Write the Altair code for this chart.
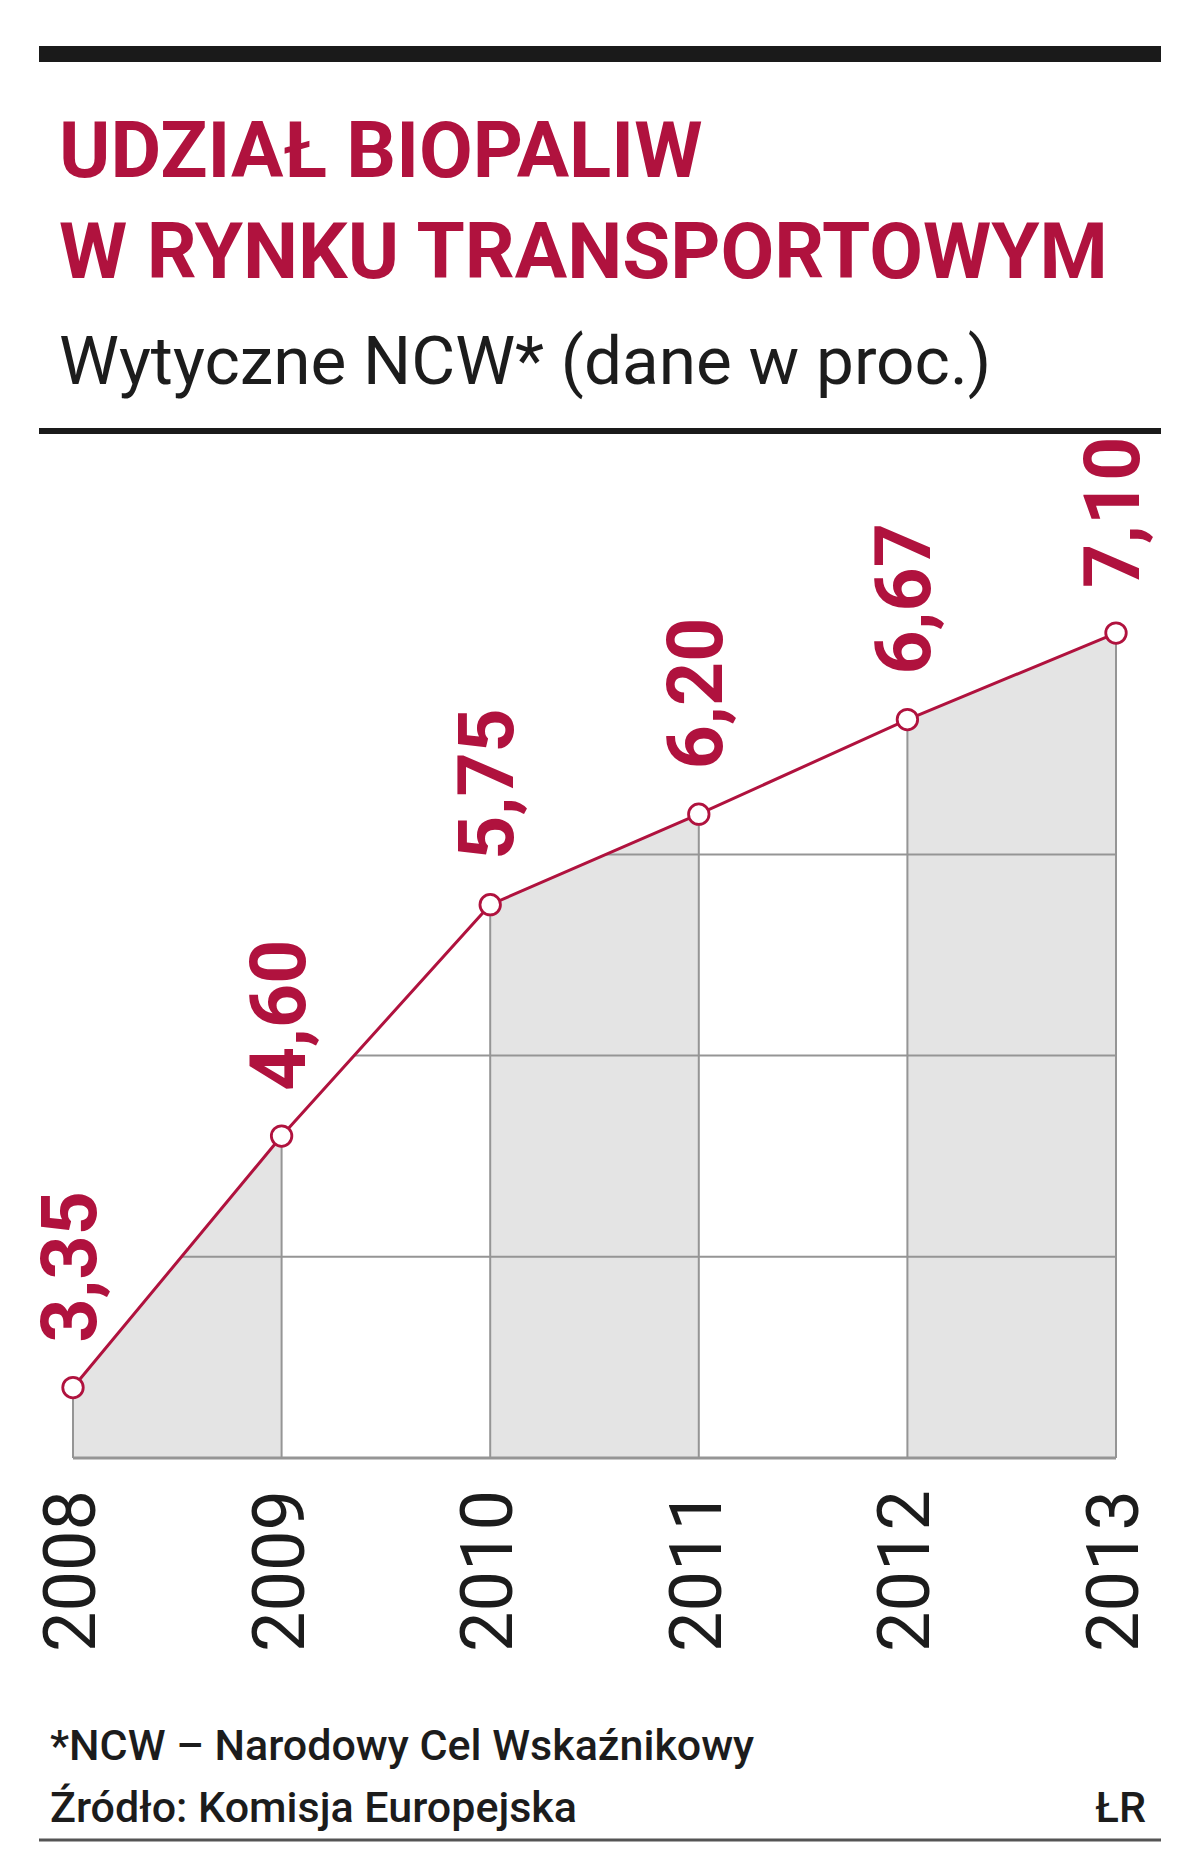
import altair as alt
import pandas as pd

# ---- data ----
years = [2008, 2009, 2010, 2011, 2012, 2013]
values = [3.35, 4.60, 5.75, 6.20, 6.67, 7.10]
value_labels = ["3,35", "4,60", "5,75", "6,20", "6,67", "7,10"]
grid_values = [4, 5, 6]
y_domain = [3, 8]
title_lines = ["UDZIAŁ BIOPALIW", "W RYNKU TRANSPORTOWYM"]
subtitle = "Wytyczne NCW* (dane w proc.)"
footnote = "*NCW – Narodowy Cel Wskaźnikowy"
source = "Źródło: Komisja Europejska"
credit = "ŁR"

# ---- styling ----
W, H = 1043, 1006
RED = "#b0123e"
GRID = "#959595"
FILL = "#e4e4e4"
INK = "#1c1c1c"
FONT = "Roboto, 'Liberation Sans', sans-serif"

df = pd.DataFrame({
    "year": years,
    "value": values,
    "label": value_labels,
    "year_label": [str(v) for v in years],
})

seg_rows = []
for i in range(0, len(years) - 1, 2):
    for j in (i, i + 1):
        seg_rows.append({"year": years[j], "value": values[j], "seg": i // 2})
seg_df = pd.DataFrame(seg_rows)

x = alt.X("year:Q", scale=alt.Scale(domain=[years[0], years[-1]], nice=False, zero=False), axis=None)
y = alt.Y("value:Q", scale=alt.Scale(domain=y_domain, nice=False, zero=False), axis=None)

fill_areas = alt.Chart(seg_df).mark_area(color=FILL, opacity=1).encode(
    x=x, y=y, y2=alt.datum(y_domain[0]), detail="seg:N"
)

h_grid = alt.Chart(pd.DataFrame({"value": grid_values})).mark_rule(color=GRID, strokeWidth=2).encode(
    y=y, x=alt.value(0), x2=alt.value(W)
)
# vertical grid from the baseline up to each point
v_grid = alt.Chart(df).mark_rule(color=GRID, strokeWidth=2).encode(
    x=x, y=y, y2=alt.datum(y_domain[0])
)
baseline = alt.Chart(pd.DataFrame({"value": [y_domain[0]]})).mark_rule(color=GRID, strokeWidth=3).encode(
    y=y, x=alt.value(0), x2=alt.value(W)
)

# white area above the line hides the horizontal grid there
mask = alt.Chart(df).mark_area(color="white", opacity=1).encode(
    x=x, y=y, y2=alt.datum(y_domain[1])
)

line = alt.Chart(df).mark_line(color=RED, strokeWidth=3).encode(x=x, y=y)
points = alt.Chart(df).mark_circle(size=420, fill="white", stroke=RED, strokeWidth=2.8, opacity=1).encode(x=x, y=y)

labels = alt.Chart(df).mark_text(
    angle=270, align="left", baseline="middle", dx=45, dy=0,
    font=FONT, fontSize=77, fontWeight="bold", color=RED
).encode(x=x, y=y, text="label:N")

year_text = alt.Chart(df).mark_text(
    angle=270, align="left", baseline="middle",
    font=FONT, fontSize=72, color=INK
).encode(x=x, y=alt.value(1200), text="year_label:N")


def text_layer(txt, px, py, size, weight="normal", color=INK, align="left"):
    return alt.Chart(pd.DataFrame({"t": [txt]})).mark_text(
        align=align, baseline="alphabetic", font=FONT, fontSize=size,
        fontWeight=weight, color=color
    ).encode(x=alt.value(px), y=alt.value(py), text="t:N")


def rule_layer(py, thickness, color):
    return alt.Chart(pd.DataFrame({"r": [0]})).mark_rule(color=color, strokeWidth=thickness).encode(
        x=alt.value(-34), x2=alt.value(1088), y=alt.value(py)
    )


annotations = [
    rule_layer(-398, 16, "#1a1a1a"),
    text_layer(title_lines[0], -14, -275, 78, "bold", RED),
    text_layer(title_lines[1], -14, -174, 78, "bold", RED),
    text_layer(subtitle, -14, -68, 67.5, "normal", INK),
    rule_layer(-21, 6, "#1a1a1a"),
    text_layer(footnote, -23, 1308, 43, 500, INK),
    text_layer(source, -23, 1370, 43, 500, INK),
    text_layer(credit, 1073, 1370, 43, 500, INK, align="right"),
    rule_layer(1388, 3, "#555555"),
]

chart = alt.layer(
    fill_areas, h_grid, mask, v_grid, baseline, line, points, labels, year_text, *annotations
).properties(
    width=W,
    height=H,
    padding={"left": 65, "top": 444, "right": 76, "bottom": 390},
    autosize=alt.AutoSizeParams(type="none"),
    background="white",
).configure_view(stroke=None)

chart.save("out.html", embed_options={"renderer": "svg", "actions": False})
